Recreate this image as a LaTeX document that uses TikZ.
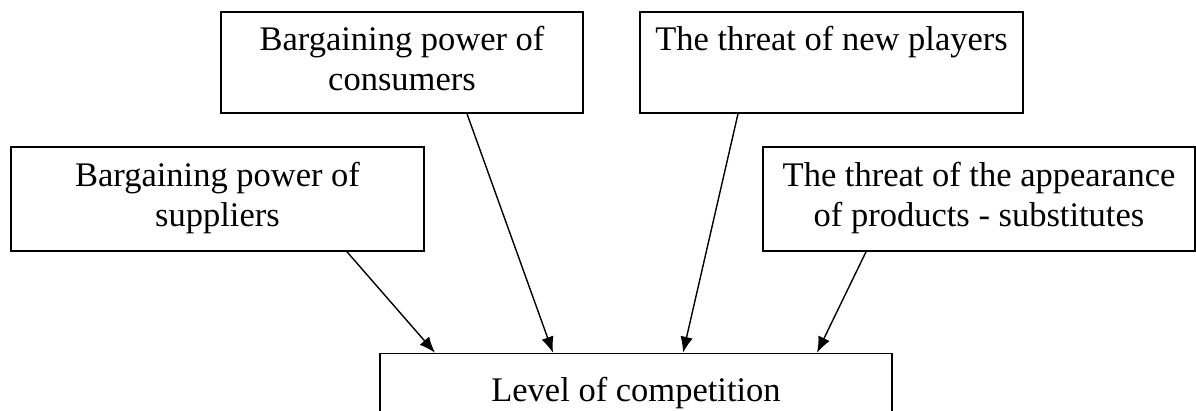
\documentclass[tikz,border=0pt]{standalone}
\usepackage{fontspec}
\setmainfont{Liberation Serif}
\usetikzlibrary{arrows.meta}
\begin{document}
\begin{tikzpicture}[x=1pt,y=-1pt,
  box/.style={draw=black, line width=1.6pt, rectangle, inner sep=0pt, align=center,
    font=\fontsize{34.5}{40}\selectfont},
  arr/.style={draw=black, line width=1.4pt, -{Latex[length=16pt,width=12.5pt]}}]
\useasboundingbox (0,0) rectangle (1196,411);
\node[box, minimum width=413pt, minimum height=104pt] (sup) at (217.5,199)
  {\strut Bargaining power of\\\strut suppliers};
\node[box, minimum width=362pt, minimum height=101pt] (con) at (402,62.5)
  {\strut Bargaining power of\\\strut consumers};
\node[box, minimum width=383pt, minimum height=101pt] (new) at (831.5,62.5)
  {\strut The threat of new players\\\strut};
\node[box, minimum width=432pt, minimum height=104pt] (sub) at (979,199)
  {\strut The threat of the appearance\\\strut of products - substitutes};
\node[box, minimum width=512pt, minimum height=78.8pt] (comp) at (636,393)
  {\strut Level of competition};
\draw[arr] ([xshift=129.5pt]sup.south) -- ([xshift=-201pt]comp.north);
\draw[arr] ([xshift=65pt]con.south) -- ([xshift=-83pt]comp.north);
\draw[arr] ([xshift=-93.5pt]new.south) -- ([xshift=47pt]comp.north);
\draw[arr] ([xshift=-113pt]sub.south) -- ([xshift=181pt]comp.north);
\end{tikzpicture}
\end{document}
